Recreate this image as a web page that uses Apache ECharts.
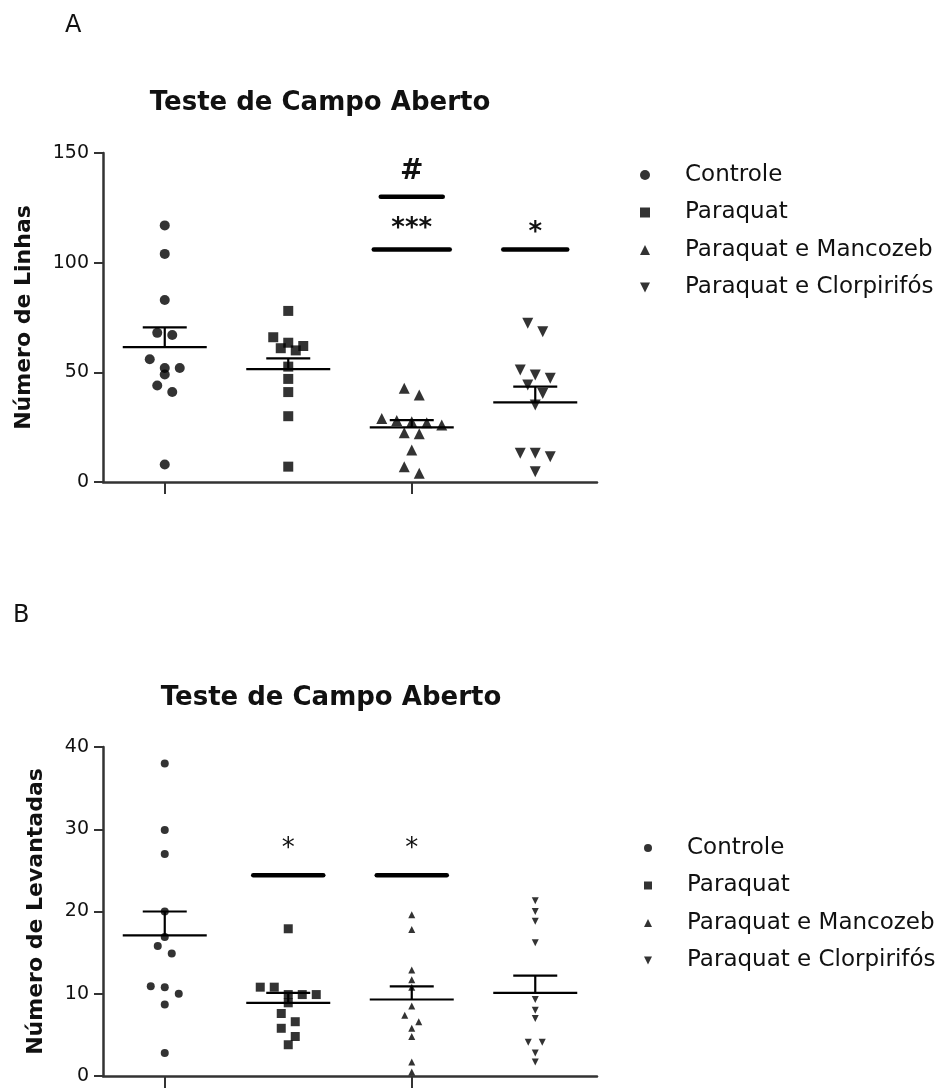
<!DOCTYPE html>
<html><head><meta charset="utf-8">
<script src="https://cdn.jsdelivr.net/npm/echarts@6/dist/echarts.min.js"></script>
<style>html,body{margin:0;padding:0;background:#fff}#c{width:952px;height:1088px}</style>
</head><body><div id="c"></div>
<script>
// ---------- DATA ----------
const groups = ['Controle', 'Paraquat', 'Paraquat e Mancozeb', 'Paraquat e Clorpirifós'];
const yTicksA = [0, 50, 100, 150];
const yTicksB = [0, 10, 20, 30, 40];

// Panel A: Número de Linhas
const linhasControle    = [117, 104, 83, 68, 67, 56, 52, 52, 49, 44, 41, 8];
const linhasParaquat    = [78, 66, 63.5, 62, 61, 60, 52.6, 47, 41, 30, 7];
const linhasMancozeb    = [42.7, 39.7, 29, 28, 27.5, 27, 26, 22.5, 22, 14.6, 7, 4];
const linhasClorpirifos = [72.4, 68.5, 51.1, 48.8, 47.3, 44.2, 40.4, 35.1, 13.1, 13.1, 11.5, 4.7];
const linhasMean = [61.5, 51.5, 24.9, 36.3];
const linhasSem  = [9.0, 4.9, 3.3, 7.2];
const linhasSig  = [[2, 130, '#'], [2, 106, '***'], [3, 106, '*']];

// Panel B: Número de Levantadas
const levControle    = [38, 29.9, 27, 20, 16.9, 15.8, 14.9, 10.9, 10.8, 10, 8.7, 2.8];
const levParaquat    = [17.9, 10.8, 10.8, 9.9, 9.9, 9.9, 8.9, 7.6, 6.6, 5.8, 4.8, 3.8];
const levMancozeb    = [19.6, 17.8, 12.9, 11.7, 10.8, 8.5, 7.4, 6.6, 5.8, 4.8, 1.7, 0.5];
const levClorpirifos = [21.3, 20.0, 18.8, 16.2, 9.3, 8.0, 7.0, 4.1, 4.1, 2.8, 1.7];
const levMean = [17.1, 8.9, 9.3, 10.1];
const levSem  = [2.9, 1.2, 1.6, 2.1];
const levSig  = [[1, 24.4, '*'], [2, 24.4, '*']];

// ---------- LAYOUT / STYLE ----------
const FONT = 'DejaVu Sans';
const INK = '#111';
const gridH = 329;
const invTri = 'path://M0,0 L10,0 L5,10 Z';
const symbols = ['circle', 'rect', 'triangle', invTri];

// beeswarm-like horizontal spreading of points that overlap vertically
function swarm(values, pxPerUnit, size, step) {
  const order = values.map((v, i) => i).sort((a, b) => values[b] - values[a]);
  const offs = new Array(values.length).fill(0);
  let row = [], rowTop = null;
  const flush = () => {
    const n = row.length;
    row.forEach((k, j) => { offs[k] = (j - (n - 1) / 2) * step; });
    row = [];
  };
  order.forEach(i => {
    if (row.length && (rowTop - values[i]) * pxPerUnit >= size) flush();
    if (!row.length) rowTop = values[i];
    row.push(i);
  });
  flush();
  return offs;
}

function scatterSeries(name, gi, values, axisIdx, ppu, size, step) {
  const offs = swarm(values, ppu, size, step);
  return {
    type: 'scatter', name, xAxisIndex: axisIdx, yAxisIndex: axisIdx,
    symbol: symbols[gi], symbolSize: size,
    itemStyle: { color: '#000' }, z: 3,
    data: values.map((v, i) => ({ value: [gi, v], symbolOffset: [offs[i], 0] }))
  };
}

// mean line with SEM drawn upward only
function meanSeries(means, sems, axisIdx) {
  const half = 42, capHalf = 22;
  return {
    type: 'custom', xAxisIndex: axisIdx, yAxisIndex: axisIdx, z: 4, silent: true,
    data: means.map((m, i) => [i, m, sems[i]]),
    renderItem: (params, api) => {
      const c = api.value(0), m = api.value(1), s = api.value(2);
      const p = api.coord([c, m]), t = api.coord([c, m + s]);
      const style = { stroke: '#000', lineWidth: 2.2 };
      return { type: 'group', children: [
        { type: 'line', shape: { x1: p[0] - half, y1: p[1], x2: p[0] + half, y2: p[1] }, style },
        { type: 'line', shape: { x1: p[0], y1: t[1], x2: p[0], y2: p[1] }, style },
        { type: 'line', shape: { x1: p[0] - capHalf, y1: t[1], x2: p[0] + capHalf, y2: t[1] }, style }
      ]};
    }
  };
}

function sigSeries(sig, axisIdx, halfW, textStyleFor) {
  return {
    type: 'custom', xAxisIndex: axisIdx, yAxisIndex: axisIdx, z: 5, silent: true,
    data: sig.map(s => [s[0], s[1]]),
    renderItem: (params, api) => {
      const lab = sig[params.dataIndex][2];
      const p = api.coord([api.value(0), api.value(1)]);
      const hw = halfW[lab];
      const ts = textStyleFor(lab);
      return { type: 'group', children: [
        { type: 'line', shape: { x1: p[0] - hw, y1: p[1], x2: p[0] + hw, y2: p[1] },
          style: { stroke: '#000', lineWidth: 4.5, lineCap: 'round' } },
        { type: 'text', x: p[0], y: p[1] - ts.gap,
          style: { text: lab, fill: INK, font: ts.font, align: 'center', verticalAlign: 'middle' } }
      ]};
    }
  };
}

const axisLineStyle = { color: '#333', width: 2.5 };

const xAxisCommon = {
  type: 'category', data: groups, boundaryGap: true,
  axisLine: { show: true, lineStyle: axisLineStyle },
  axisTick: { show: true, alignWithLabel: true, length: 12, lineStyle: { color: '#333', width: 2 } },
  axisLabel: { show: false }, splitLine: { show: false }
};
function yAxis(ticks, name, gap) {
  return {
    type: 'value', min: ticks[0], max: ticks[ticks.length - 1], interval: ticks[1] - ticks[0],
    name, nameLocation: 'middle', nameGap: gap, nameRotate: 90,
    nameTextStyle: { fontFamily: FONT, fontWeight: 'bold', fontSize: 22, color: INK },
    axisLine: { show: true, lineStyle: axisLineStyle },
    axisTick: { show: true, length: 9, lineStyle: { color: '#333', width: 2 } },
    axisLabel: { fontFamily: FONT, fontSize: 19, color: INK, margin: 14 },
    splitLine: { show: false }
  };
}

const ppuA = gridH / (yTicksA[yTicksA.length - 1] - yTicksA[0]);
const ppuB = gridH / (yTicksB[yTicksB.length - 1] - yTicksB[0]);
const dataA = [linhasControle, linhasParaquat, linhasMancozeb, linhasClorpirifos];
const dataB = [levControle, levParaquat, levMancozeb, levClorpirifos];
const sizeA = [10, 10, 11, 11];
const sizeB = [8, 9, 7, 7];

const series = [];
dataA.forEach((vals, gi) => series.push(scatterSeries(groups[gi], gi, vals, 0, ppuA, sizeA[gi], 15)));
dataB.forEach((vals, gi) => series.push(scatterSeries(groups[gi], gi, vals, 1, ppuB, sizeB[gi], 14)));
series.push(meanSeries(linhasMean, linhasSem, 0));
series.push(meanSeries(levMean, levSem, 1));
series.push(sigSeries(linhasSig, 0, { '#': 31, '***': 38, '*': 32 }, lab => ({
  font: 'bold ' + (lab === '#' ? 28 : 26) + 'px "' + FONT + '"',
  gap: lab === '#' ? 25 : (lab === '***' ? 20 : 16)
})));
series.push(sigSeries(levSig, 1, { '*': 35 }, lab => ({ font: '26px "' + FONT + '"', gap: 26 })));

const legendText = { fontFamily: FONT, fontSize: 23, color: INK, lineHeight: 24, padding: [0, 0, 0, 30] };

const option = {
  backgroundColor: '#fff',
  animation: false,
  title: [
    { text: 'A', left: 65, top: 14, padding: 0, textStyle: { fontFamily: FONT, fontSize: 24, fontWeight: 'normal', color: INK } },
    { text: 'Teste de Campo Aberto', left: 320, top: 90, textAlign: 'center', padding: 0,
      textStyle: { fontFamily: FONT, fontSize: 26, fontWeight: 'bold', color: INK } },
    { text: 'B', left: 13, top: 604, padding: 0, textStyle: { fontFamily: FONT, fontSize: 24, fontWeight: 'normal', color: INK } },
    { text: 'Teste de Campo Aberto', left: 331, top: 685, textAlign: 'center', padding: 0,
      textStyle: { fontFamily: FONT, fontSize: 26, fontWeight: 'bold', color: INK } }
  ],
  legend: [
    { orient: 'vertical', left: 640, top: 163, padding: 0, itemWidth: 10, itemHeight: 10, itemGap: 13.5,
      selectedMode: false, data: groups, textStyle: legendText, itemStyle: { color: '#000' } },
    { orient: 'vertical', left: 644, top: 836, padding: 0, itemWidth: 8, itemHeight: 8, itemGap: 13.5,
      selectedMode: false, data: groups, textStyle: legendText, itemStyle: { color: '#000' } }
  ],
  grid: [
    { left: 103, right: 355, top: 153, height: gridH },
    { left: 103, right: 355, top: 747, height: gridH }
  ],
  xAxis: [Object.assign({ gridIndex: 0 }, xAxisCommon), Object.assign({ gridIndex: 1 }, xAxisCommon)],
  yAxis: [
    Object.assign({ gridIndex: 0 }, yAxis(yTicksA, 'Número de Linhas', 68)),
    Object.assign({ gridIndex: 1 }, yAxis(yTicksB, 'Número de Levantadas', 56))
  ],
  series
};

const chart = echarts.init(document.getElementById('c'), null, { renderer: 'canvas' });
chart.setOption(option);
</script>
</body></html>
